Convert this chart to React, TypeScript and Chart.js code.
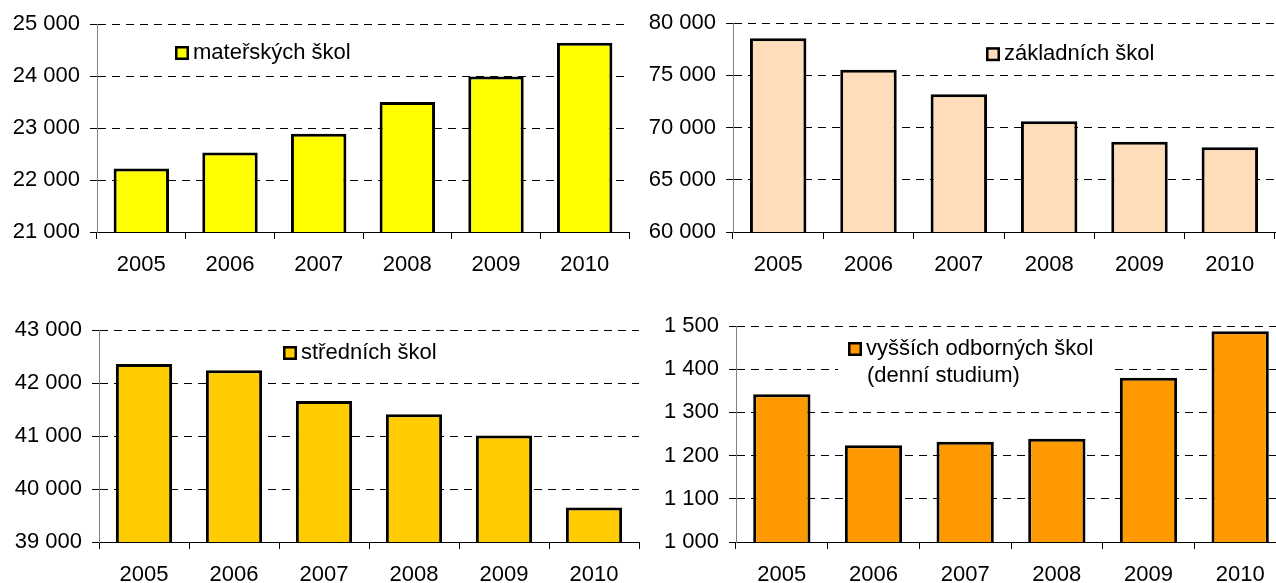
import React, { useEffect, useRef } from "react";
import { Chart, registerables } from "chart.js";

Chart.register(...registerables);

const FONT = '"Liberation Sans", Arial, Helvetica, sans-serif';

const years = ["2005", "2006", "2007", "2008", "2009", "2010"];

const materskychSkol = [22220, 22530, 22890, 23500, 23990, 24640];
const zakladnichSkol = [78560, 75540, 73190, 70620, 68650, 68110];
const strednichSkol = [42360, 42240, 41660, 41410, 41010, 39650];
const vyssichOdbornychSkol = [1342, 1224, 1232, 1239, 1380, 1488];

const legendMaterske = ["mateřských škol"];
const legendZakladni = ["základních škol"];
const legendStredni = ["středních škol"];
const legendVos = ["vyšších odborných škol", "(denní studium)"];

const fmt = (v: number | string) =>
  String(v).replace(/\B(?=(\d{3})+(?!\d))/g, " ");

type PanelProps = {
  left: number;
  top: number;
  width: number;
  height: number;
  yWidth: number;
  padRight: number;
  padTop: number;
  xHeight: number;
  values: number[];
  color: string;
  min: number;
  max: number;
  step: number;
  legend: string[];
  legendDx: number;
  legendDy: number;
  legendBg?: [number, number, number, number];
};

function Panel(p: PanelProps) {
  const ref = useRef<HTMLCanvasElement | null>(null);
  useEffect(() => {
    if (!ref.current) return;
    const legendPlugin = {
      id: "boxLegend",
      afterDraw(chart: any) {
        const { ctx, chartArea } = chart;
        const x = chartArea.left + p.legendDx;
        const y = chartArea.top + p.legendDy;
        ctx.save();
        if (p.legendBg) {
          ctx.fillStyle = "#ffffff";
          ctx.fillRect(x + p.legendBg[0], y + p.legendBg[1], p.legendBg[2], p.legendBg[3]);
        }
        ctx.fillStyle = p.color;
        ctx.fillRect(x, y, 14, 14);
        ctx.lineWidth = 2.5;
        ctx.strokeStyle = "#000";
        ctx.strokeRect(x + 1.25, y + 1.25, 11.5, 11.5);
        ctx.font = `22px ${FONT}`;
        ctx.fillStyle = "#000";
        ctx.textBaseline = "middle";
        ctx.textAlign = "left";
        p.legend.forEach((line, i) => {
          ctx.fillText(line, x + 18 + (i > 0 ? 1 : 0), y + 7 + i * 27);
        });
        ctx.restore();
      },
    };
    const chart = new Chart(ref.current, {
      type: "bar",
      data: {
        labels: years,
        datasets: [
          {
            data: p.values,
            backgroundColor: p.color,
            borderColor: "#000",
            borderWidth: 3,
            barPercentage: 0.625,
            categoryPercentage: 1,
          },
        ],
      },
      options: {
        responsive: false,
        animation: false,
        devicePixelRatio: 1,
        layout: { padding: { left: 0, right: p.padRight, top: p.padTop, bottom: 0 } },
        plugins: { legend: { display: false }, tooltip: { enabled: false } },
        scales: {
          x: {
            afterFit: (s: any) => {
              s.height = p.xHeight;
            },
            grid: {
              drawOnChartArea: false,
              drawTicks: true,
              tickLength: 7,
              tickColor: "#000",
              offset: true,
            },
            border: { color: "#000", width: 1 },
            ticks: {
              color: "#000",
              font: { family: FONT, size: 22 },
              padding: 13,
              maxRotation: 0,
              autoSkip: false,
            },
          },
          y: {
            min: p.min,
            max: p.max,
            afterFit: (s: any) => {
              s.width = p.yWidth;
            },
            grid: {
              color: "#000",
              lineWidth: 1,
              tickLength: 7,
              tickColor: "#000",
            },
            border: { color: "#808080", width: 1, dash: [8, 6] },
            ticks: {
              stepSize: p.step,
              color: "#000",
              padding: 10,
              font: { family: FONT, size: 22 },
              callback: (v: any) => fmt(v),
            },
          },
        },
      },
      plugins: [legendPlugin],
    });
    return () => chart.destroy();
  }, []);
  return (
    <canvas
      ref={ref}
      width={p.width}
      height={p.height}
      style={{ position: "absolute", left: p.left, top: p.top, width: p.width, height: p.height }}
    />
  );
}

export default function App() {
  return (
    <div
      style={{
        position: "absolute",
        left: 0,
        top: 0,
        width: 1276,
        height: 583,
        overflow: "hidden",
        background: "#fff",
      }}
    >
      <Panel
        left={0}
        top={0}
        width={640}
        height={290}
        yWidth={97}
        padRight={11}
        padTop={24}
        xHeight={58}
        values={materskychSkol}
        color="#FFFF00"
        min={21000}
        max={25000}
        step={1000}
        legend={legendMaterske}
        legendDx={78}
        legendDy={22}
      />
      <Panel
        left={636}
        top={0}
        width={640}
        height={290}
        yWidth={97}
        padRight={1}
        padTop={22}
        xHeight={58}
        values={zakladnichSkol}
        color="#FFDDBB"
        min={60000}
        max={80000}
        step={5000}
        legend={legendZakladni}
        legendDx={253}
        legendDy={24}
      />
      <Panel
        left={0}
        top={290}
        width={645}
        height={293}
        yWidth={99}
        padRight={6}
        padTop={40}
        xHeight={41}
        values={strednichSkol}
        color="#FFCC00"
        min={39000}
        max={43000}
        step={1000}
        legend={legendStredni}
        legendDx={184}
        legendDy={16}
      />
      <Panel
        left={636}
        top={290}
        width={660}
        height={293}
        yWidth={100}
        padRight={10}
        padTop={36}
        xHeight={41}
        values={vyssichOdbornychSkol}
        color="#FF9900"
        min={1000}
        max={1500}
        step={100}
        legend={legendVos}
        legendDx={112}
        legendDy={16}
        legendBg={[-10, -8, 277, 56]}
      />
    </div>
  );
}
